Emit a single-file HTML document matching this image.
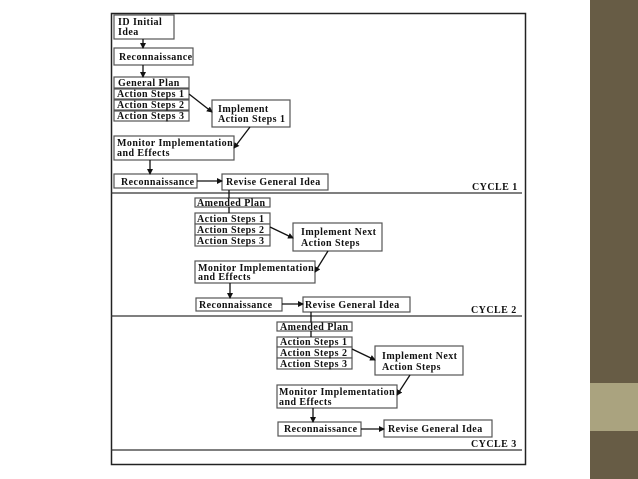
<!DOCTYPE html>
<html><head><style>
html,body{margin:0;padding:0;background:#fff;width:638px;height:479px;overflow:hidden}
svg{display:block}
text{font-family:"Liberation Serif",serif;font-weight:bold;font-size:10px;letter-spacing:0.45px;fill:#111}
</style></head><body>
<svg width="638" height="479" viewBox="0 0 638 479">
<defs><marker id="a" markerWidth="6" markerHeight="6" refX="5" refY="3" orient="auto" markerUnits="userSpaceOnUse"><path d="M0,0 L6,3 L0,6 z" fill="#111"/></marker></defs>
<rect x="590" y="0" width="48" height="479" fill="#675c45"/>
<rect x="590" y="383" width="48" height="48" fill="#aaa37f"/>
<rect x="111.5" y="13.5" width="414" height="451" fill="#fff" stroke="#222" stroke-width="1.5"/>
<g fill="#fff" stroke="#555" stroke-width="1.2">
<rect x="114" y="15" width="60" height="24"/>
<rect x="114" y="48" width="79" height="17"/>
<rect x="114" y="77" width="75" height="11"/>
<rect x="114" y="89" width="75" height="10"/>
<rect x="114" y="100" width="75" height="10"/>
<rect x="114" y="111" width="75" height="10"/>
<rect x="212" y="100" width="78" height="27"/>
<rect x="114" y="136" width="120" height="24"/>
<rect x="114" y="174" width="83" height="14"/>
<rect x="222" y="174" width="106" height="16"/>
<rect x="195" y="198" width="75" height="9"/>
<rect x="195" y="213" width="75" height="11"/>
<rect x="195" y="224" width="75" height="11"/>
<rect x="195" y="235" width="75" height="11"/>
<rect x="293" y="223" width="89" height="28"/>
<rect x="195" y="261" width="120" height="22"/>
<rect x="196" y="298" width="86" height="13"/>
<rect x="303" y="297" width="107" height="15"/>
<rect x="277" y="322" width="75" height="9"/>
<rect x="277" y="337" width="75" height="10"/>
<rect x="277" y="347" width="75" height="11"/>
<rect x="277" y="358" width="75" height="11"/>
<rect x="375" y="346" width="88" height="29"/>
<rect x="277" y="385" width="120" height="23"/>
<rect x="278" y="422" width="83" height="14"/>
<rect x="384" y="420" width="108" height="17"/>
</g>
<g stroke="#333" stroke-width="1.2">
<line x1="111" y1="193" x2="522" y2="193"/>
<line x1="111" y1="316" x2="522" y2="316"/>
<line x1="111" y1="450" x2="522" y2="450"/>
</g>
<g stroke="#111" stroke-width="1.3" fill="none">
<line x1="143" y1="39" x2="143" y2="48" marker-end="url(#a)"/>
<line x1="143" y1="65" x2="143" y2="77" marker-end="url(#a)"/>
<line x1="189" y1="94" x2="212" y2="112" marker-end="url(#a)"/>
<line x1="250" y1="127" x2="234" y2="148" marker-end="url(#a)"/>
<line x1="150" y1="160" x2="150" y2="174" marker-end="url(#a)"/>
<line x1="197" y1="181" x2="222" y2="181" marker-end="url(#a)"/>
<line x1="229" y1="190" x2="229" y2="198"/>
<line x1="229" y1="207" x2="229" y2="213"/>
<line x1="270" y1="227" x2="293" y2="238" marker-end="url(#a)"/>
<line x1="328" y1="251" x2="315" y2="272" marker-end="url(#a)"/>
<line x1="230" y1="283" x2="230" y2="298" marker-end="url(#a)"/>
<line x1="282" y1="304" x2="303" y2="304" marker-end="url(#a)"/>
<line x1="311" y1="312" x2="311" y2="322"/>
<line x1="311" y1="331" x2="311" y2="337"/>
<line x1="352" y1="349" x2="375" y2="360" marker-end="url(#a)"/>
<line x1="410" y1="375" x2="397" y2="395" marker-end="url(#a)"/>
<line x1="313" y1="408" x2="313" y2="422" marker-end="url(#a)"/>
<line x1="361" y1="429" x2="384" y2="429" marker-end="url(#a)"/>
</g>
<text x="118" y="25">ID Initial</text><text x="118" y="35">Idea</text>
<text x="119" y="60">Reconnaissance</text>
<text x="118" y="86">General Plan</text>
<text x="117" y="97">Action Steps 1</text>
<text x="117" y="108">Action Steps 2</text>
<text x="117" y="119">Action Steps 3</text>
<text x="218" y="112">Implement</text><text x="218" y="122">Action Steps 1</text>
<text x="117" y="146">Monitor Implementation</text><text x="117" y="156">and Effects</text>
<text x="121" y="185">Reconnaissance</text>
<text x="226" y="185">Revise General Idea</text>
<text x="472" y="190">CYCLE 1</text>
<text x="197" y="206">Amended Plan</text>
<text x="197" y="222">Action Steps 1</text>
<text x="197" y="233">Action Steps 2</text>
<text x="197" y="244">Action Steps 3</text>
<text x="301" y="235">Implement Next</text><text x="301" y="246">Action Steps</text>
<text x="198" y="271">Monitor Implementation</text><text x="198" y="280">and Effects</text>
<text x="199" y="308">Reconnaissance</text>
<text x="305" y="308">Revise General Idea</text>
<text x="471" y="313">CYCLE 2</text>
<text x="280" y="330">Amended Plan</text>
<text x="280" y="345">Action Steps 1</text>
<text x="280" y="356">Action Steps 2</text>
<text x="280" y="367">Action Steps 3</text>
<text x="382" y="359">Implement Next</text><text x="382" y="370">Action Steps</text>
<text x="279" y="395">Monitor Implementation</text><text x="279" y="405">and Effects</text>
<text x="284" y="432">Reconnaissance</text>
<text x="388" y="432">Revise General Idea</text>
<text x="471" y="447">CYCLE 3</text>
</svg>
</body></html>
